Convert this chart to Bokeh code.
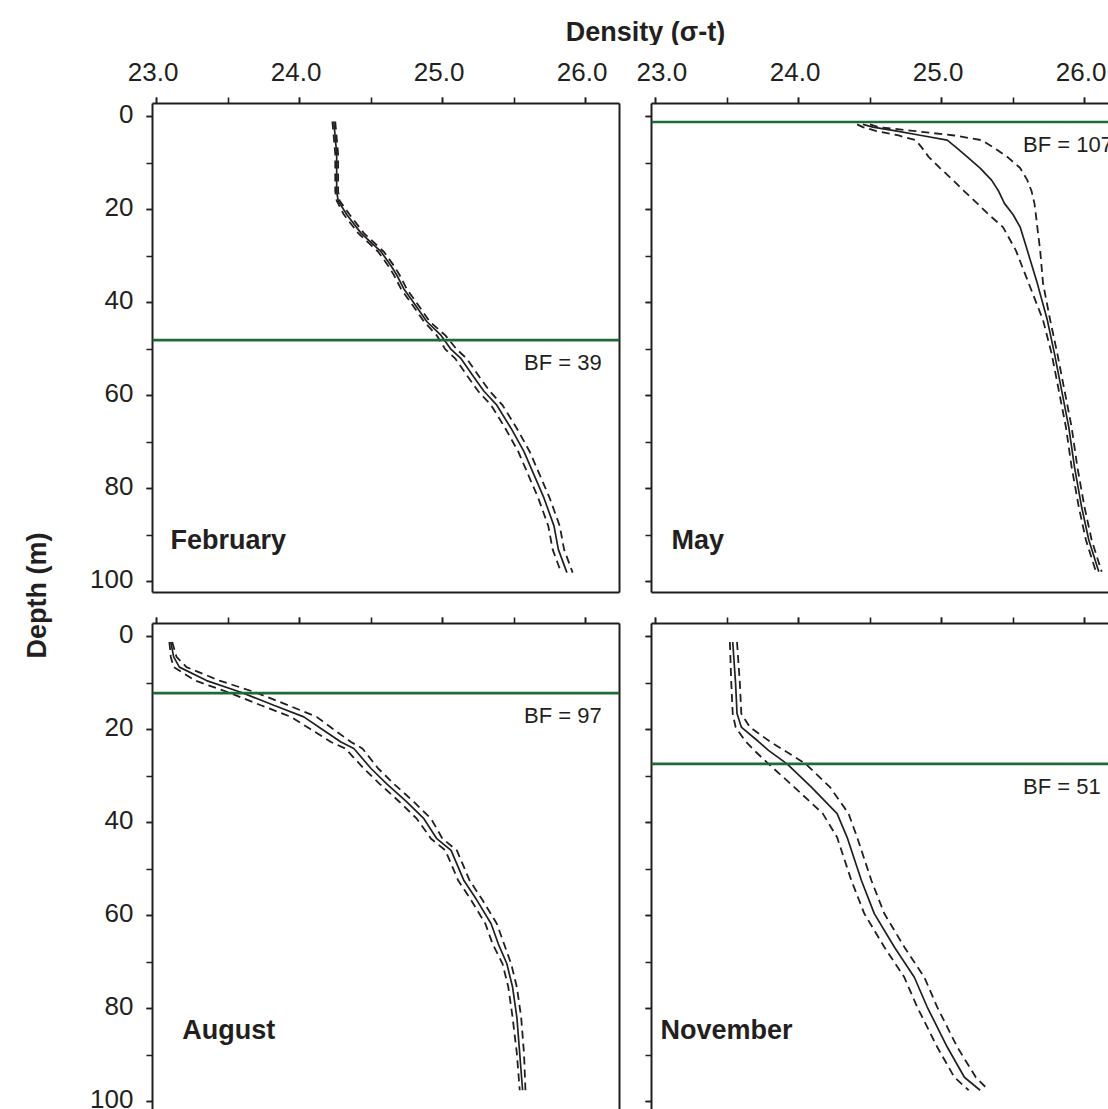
from math import pi

from bokeh.plotting import figure
from bokeh.layouts import row, column
from bokeh.models import (Range1d, FixedTicker, LinearAxis, Label, Span,
                          CustomJSTickFormatter, PrintfTickFormatter)
from bokeh.embed import file_html
from bokeh.resources import INLINE

FONT = "Liberation Sans"
INK = "#231f20"
GREEN = "#1e6b38"

# ---- axes -------------------------------------------------------------
X_TICKS = [23.0, 24.0, 25.0, 26.0]
X_MINOR = [23.0, 23.5, 24.0, 24.5, 25.0, 25.5, 26.0]
Y_TICKS = [0, 20, 40, 60, 80, 100]
Y_MINOR = [0, 10, 20, 30, 40, 50, 60, 70, 80, 90, 100]

# ---- density profiles (sigma-t) with lower / upper bounds --------------
feb_depth = [1, 8, 16, 18, 21, 25, 27, 29, 32, 34, 37, 40, 44, 47, 50, 52, 56, 59, 62, 67, 72, 77, 82, 88, 93, 98]
feb_mean = [24.24, 24.26, 24.26, 24.27, 24.33, 24.43, 24.50, 24.57, 24.64, 24.68, 24.73, 24.80, 24.89,
            24.99, 25.06, 25.13, 25.22, 25.29, 25.38, 25.48, 25.57, 25.64, 25.71, 25.78, 25.81, 25.87]
feb_low = [24.23, 24.25, 24.25, 24.26, 24.31, 24.41, 24.48, 24.55, 24.62, 24.66, 24.71, 24.78, 24.87,
           24.96, 25.02, 25.09, 25.18, 25.25, 25.34, 25.44, 25.53, 25.60, 25.67, 25.74, 25.77, 25.83]
feb_high = [24.25, 24.27, 24.27, 24.28, 24.35, 24.45, 24.52, 24.59, 24.66, 24.70, 24.75, 24.82, 24.91,
            25.02, 25.10, 25.17, 25.26, 25.33, 25.42, 25.52, 25.61, 25.68, 25.75, 25.82, 25.85, 25.91]

may_depth = [1.6, 2.2, 3, 4, 5, 6.5, 8.6, 11, 13.6, 16, 18.6, 21, 23.7, 28.7, 35.8, 43.7, 50.9, 58.8, 66.7,
             75.3, 83.9, 91, 97.8]
may_mean = [24.45, 24.52, 24.68, 24.86, 25.04, 25.10, 25.18, 25.27, 25.35, 25.40, 25.44, 25.50, 25.55,
            25.60, 25.67, 25.74, 25.79, 25.84, 25.89, 25.93, 25.98, 26.03, 26.10]
may_low = [24.41, 24.45, 24.54, 24.70, 24.82, 24.86, 24.91, 24.99, 25.08, 25.16, 25.25, 25.33, 25.43,
           25.52, 25.61, 25.71, 25.77, 25.82, 25.87, 25.91, 25.96, 26.01, 26.08]
may_high = [24.50, 24.56, 24.80, 25.09, 25.28, 25.36, 25.46, 25.55, 25.60, 25.63, 25.65, 25.66, 25.67,
            25.69, 25.71, 25.76, 25.81, 25.86, 25.91, 25.95, 26.00, 26.05, 26.12]

aug_depth = [1.1, 4.3, 6.5, 9.4, 11.9, 14.7, 17.2, 19.7, 22.6, 24.0, 28.3, 31.6, 35.5, 39.1, 43.4, 45.9,
             52.4, 56.6, 61.7, 66.0, 70.3, 75.3, 81.8, 89.6, 97.5]
aug_mean = [23.10, 23.12, 23.16, 23.35, 23.59, 23.82, 24.03, 24.15, 24.29, 24.38, 24.50, 24.61, 24.75,
            24.87, 24.96, 25.06, 25.15, 25.24, 25.34, 25.39, 25.45, 25.49, 25.52, 25.54, 25.56]
aug_low = [23.09, 23.10, 23.12, 23.27, 23.50, 23.73, 23.94, 24.07, 24.22, 24.32, 24.45, 24.56, 24.70,
           24.82, 24.92, 25.02, 25.11, 25.20, 25.30, 25.35, 25.42, 25.46, 25.49, 25.52, 25.54]
aug_high = [23.11, 23.14, 23.21, 23.44, 23.69, 23.92, 24.12, 24.23, 24.36, 24.44, 24.55, 24.66, 24.80,
            24.92, 25.00, 25.10, 25.19, 25.28, 25.38, 25.43, 25.48, 25.52, 25.55, 25.57, 25.58]

nov_depth = [1.1, 10, 16.5, 19.4, 22.5, 24.4, 27.3, 32.3, 38, 43.1, 52.4, 59.5, 66.7, 73.2, 79.6, 88.2, 94.7, 97.5]
nov_mean = [23.54, 23.56, 23.57, 23.60, 23.72, 23.79, 23.92, 24.09, 24.27, 24.34, 24.44, 24.53, 24.67,
            24.81, 24.90, 25.04, 25.16, 25.27]
nov_low = [23.52, 23.53, 23.54, 23.56, 23.63, 23.69, 23.79, 23.97, 24.17, 24.27, 24.37, 24.46, 24.60,
           24.74, 24.83, 24.97, 25.09, 25.19]
nov_high = [23.57, 23.59, 23.60, 23.66, 23.80, 23.90, 24.05, 24.22, 24.35, 24.41, 24.51, 24.60, 24.74,
            24.88, 24.97, 25.11, 25.24, 25.33]

months = ["February", "May", "August", "November"]
bf_depth = [48.0, 1.1, 12.1, 27.3]
bf_value = [39, 107, 97, 51]

# ---- panel geometry -----------------------------------------------------
X_START = 22.972
Y_TOP = -2.88
BF_X = 25.57
PX_PER_UNIT = 143.0
PX_PER_M = 4.65
X_LABEL_SHIFT = 3.4 / PX_PER_UNIT   # tick labels sit a little left of their ticks
Y_LABEL_SHIFT = 3.0 / PX_PER_M      # ... and a little above them


def blank_axis(ax):
    ax.axis_line_color = INK
    ax.axis_line_width = 2
    ax.major_label_text_font_size = "0px"
    ax.major_label_standoff = 0
    ax.formatter = CustomJSTickFormatter(code="return ''")


def tick_axis(ax, ticker):
    blank_axis(ax)
    ax.ticker = ticker
    ax.major_tick_line_color = INK
    ax.minor_tick_line_color = INK
    ax.major_tick_line_width = 1.6
    ax.minor_tick_line_width = 1.6
    ax.major_tick_in = 0
    ax.minor_tick_in = 0
    ax.major_tick_out = 6
    ax.minor_tick_out = 6


def label_axis(range_name, ticks, fmt, standoff):
    ax = LinearAxis(ticker=FixedTicker(ticks=ticks), formatter=PrintfTickFormatter(format=fmt))
    if range_name.startswith("x"):
        ax.x_range_name = range_name
    else:
        ax.y_range_name = range_name
    ax.axis_line_color = None
    ax.major_tick_line_color = None
    ax.minor_tick_line_color = None
    ax.major_tick_in = ax.major_tick_out = 0
    ax.minor_tick_in = ax.minor_tick_out = 0
    ax.major_label_text_font = FONT
    ax.major_label_text_font_size = "26px"
    ax.major_label_text_color = INK
    ax.major_label_standoff = standoff
    return ax


def text_label(**kw):
    base = dict(text_font=FONT, text_color=INK, text_font_size="26px")
    base.update(kw)
    return Label(**base)


def panel(depth, mean, low, high, k, month_x, month_y, width, height, borders, x_end, y_end,
          x_labels, y_labels, edges):
    bl, br, bt, bb = borders
    p = figure(width=width, height=height, output_backend="svg", toolbar_location=None,
               x_range=Range1d(X_START, x_end), y_range=Range1d(y_end, Y_TOP),
               x_axis_location="above", y_axis_location="left",
               min_border_left=bl, min_border_right=br, min_border_top=bt, min_border_bottom=bb,
               background_fill_color="white", border_fill_color="white")
    p.outline_line_color = None
    p.grid.visible = False
    tick_axis(p.xaxis[0], FixedTicker(ticks=X_TICKS, minor_ticks=X_MINOR))
    tick_axis(p.yaxis[0], FixedTicker(ticks=Y_TICKS, minor_ticks=Y_MINOR))

    if x_labels:
        p.extra_x_ranges = {"x_labels": Range1d(X_START + X_LABEL_SHIFT, x_end + X_LABEL_SHIFT)}
        p.add_layout(label_axis("x_labels", X_TICKS, "%.1f", 17), "above")
    if y_labels:
        p.extra_y_ranges = {"y_labels": Range1d(y_end + Y_LABEL_SHIFT, Y_TOP + Y_LABEL_SHIFT)}
        p.add_layout(label_axis("y_labels", Y_TICKS, "%d", 13), "left")

    for side in edges:
        ax = LinearAxis(ticker=FixedTicker(ticks=[]))
        blank_axis(ax)
        p.add_layout(ax, side)

    p.add_layout(Span(location=bf_depth[k], dimension="width", line_color=GREEN, line_width=2.6))
    p.line(low, depth, line_color=INK, line_width=1.8, line_dash="8 5")
    p.line(high, depth, line_color=INK, line_width=1.8, line_dash="8 5")
    p.line(mean, depth, line_color=INK, line_width=1.7)

    p.add_layout(text_label(x=BF_X, y=bf_depth[k], y_offset=-22.5, text=f"BF = {bf_value[k]}",
                            text_font_size="22px", text_align="left", text_baseline="alphabetic"))
    p.add_layout(text_label(x=month_x, y=month_y, text=months[k], text_font_size="27px",
                            text_font_style="bold", text_align="left", text_baseline="alphabetic"))
    return p


LEFT_W, RIGHT_W = 576, 472
TOP_H, BOT_H = 562, 502
left_x_end = X_START + 467 / PX_PER_UNIT
right_x_end = X_START + 457 / PX_PER_UNIT
top_y_end = Y_TOP + 489 / PX_PER_M
bot_y_end = Y_TOP + 486 / PX_PER_M

feb = panel(feb_depth, feb_mean, feb_low, feb_high, 0, 23.098, 91.0, LEFT_W, TOP_H, (92, 17, 58, 15),
            left_x_end, top_y_end, True, True, ["right", "below"])
may = panel(may_depth, may_mean, may_low, may_high, 1, 23.112, 91.0, RIGHT_W, TOP_H, (15, 0, 58, 15),
            right_x_end, top_y_end, True, False, ["below"])
aug = panel(aug_depth, aug_mean, aug_low, aug_high, 2, 23.18, 84.6, LEFT_W, BOT_H, (92, 17, 16, 0),
            left_x_end, bot_y_end, False, True, ["right"])
nov = panel(nov_depth, nov_mean, nov_low, nov_high, 3, 23.035, 84.6, RIGHT_W, BOT_H, (15, 0, 16, 0),
            right_x_end, bot_y_end, False, False, [])

# ---- shared axis titles -------------------------------------------------
title = figure(width=1048, height=45, output_backend="svg", toolbar_location=None,
               x_range=Range1d(60, 1108), y_range=Range1d(45, 0),
               x_axis_location=None, y_axis_location=None,
               min_border_left=0, min_border_right=0, min_border_top=0, min_border_bottom=0)
title.outline_line_color = None
title.grid.visible = False
title.add_layout(text_label(x=645, y=31, text="Density (σ-t)", text_font_size="27px",
                            text_font_style="bold", text_align="center", text_baseline="alphabetic"))

ylab = figure(width=60, height=1109, output_backend="svg", toolbar_location=None,
              x_range=Range1d(0, 60), y_range=Range1d(0, 1109),
              x_axis_location=None, y_axis_location=None,
              min_border_left=0, min_border_right=0, min_border_top=0, min_border_bottom=0)
ylab.outline_line_color = None
ylab.grid.visible = False
ylab.add_layout(text_label(x=36.5, y=1109 - 595, angle=pi / 2, text="Depth (m)", text_font_size="27px",
                           text_font_style="bold", text_align="center", text_baseline="alphabetic"))

layout = row(ylab, column(title, row(feb, may), row(aug, nov)))

open("out.html", "w").write(file_html(layout, INLINE))
